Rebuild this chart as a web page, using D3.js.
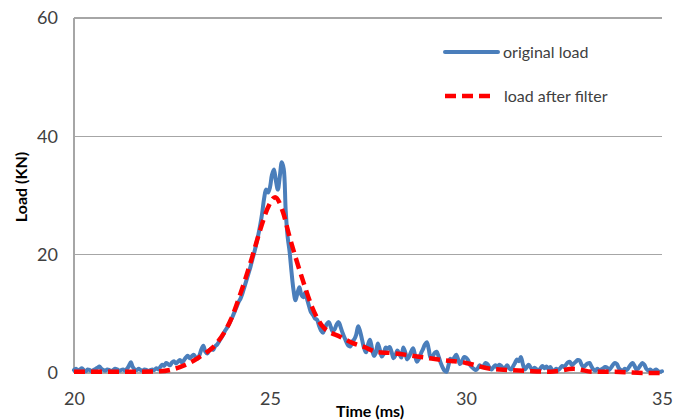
<!DOCTYPE html>
<html>
<head>
<meta charset="utf-8">
<script src="https://cdn.jsdelivr.net/npm/d3@7"></script>
<style>
  html, body { margin: 0; padding: 0; background: #fff; }
  svg { display: block; font-family: Lato, "Open Sans", sans-serif; }
</style>
</head>
<body>
<svg id="chart" width="673" height="420"></svg>
<script>
// Time axis (ms) and load axis (kN)
const xTicks = [20, 25, 30, 35];
const yTicks = [0, 20, 40, 60];

// Raw load signal, sampled every 0.05 ms from 20 ms
const rawStart = 20;
const rawStep = 0.05;
const rawLoad = [
  0.5,0.7,0.4,0.6,0.8,0.5,0.3,0.6,0.5,0.3,0.5,0.7,0.9,1.1,0.7,0.5,0.4,0.6,0.5,0.3,
  0.5,0.7,0.6,0.4,0.5,0.6,0.4,0.7,1.2,1.8,1.0,0.6,0.5,0.7,0.5,0.4,0.6,0.5,0.3,0.5,
  0.6,0.5,0.8,0.6,1.0,1.4,1.2,1.7,1.5,1.3,1.8,2.0,1.6,1.9,2.2,1.8,2.1,2.6,2.9,2.5,
  2.8,3.1,2.7,2.4,3.0,4.0,4.6,3.6,3.3,3.8,4.1,3.9,4.5,4.8,5.3,5.9,6.4,7.1,7.6,8.2,
  8.9,9.6,10.4,11.2,12.0,12.6,13.5,14.6,15.7,16.8,17.9,19.2,20.4,21.8,23.3,25.0,27.0,29.5,31.0,30.5,
  31.4,33.5,34.4,32.5,31.0,33.2,35.6,34.5,27.5,23.0,20.5,17.0,14.0,12.3,13.5,14.5,13.2,12.8,13.6,12.4,
  11.2,10.2,9.8,9.2,9.0,8.0,7.2,6.8,7.5,8.3,8.6,7.8,7.0,7.4,8.2,8.6,7.8,6.8,6.0,5.2,
  4.6,4.5,5.3,5.7,6.5,7.9,7.0,5.6,4.2,3.5,4.8,5.6,4.2,2.9,3.4,5.0,4.0,2.8,3.2,4.3,
  4.1,4.4,3.6,2.5,3.0,3.8,3.2,2.6,4.3,3.5,2.3,2.8,3.6,4.2,3.0,1.9,2.4,3.3,4.0,4.8,
  5.2,4.0,2.5,2.8,3.4,3.6,2.8,1.8,1.0,0.4,0.2,1.2,2.4,2.0,2.6,3.1,2.3,1.5,2.0,2.7,
  2.6,2.2,1.4,1.0,0.7,0.5,0.8,1.3,1.0,1.2,1.7,1.5,0.9,0.6,1.0,1.3,0.9,1.4,1.2,0.7,
  0.9,1.3,0.8,0.6,1.1,1.7,2.3,2.0,2.7,1.5,0.6,1.0,1.4,0.9,0.5,0.9,0.6,0.4,0.8,1.2,
  0.8,1.1,0.7,1.0,0.5,0.4,0.7,0.5,0.8,1.2,1.0,1.4,1.8,1.9,1.3,1.6,1.9,2.2,2.1,1.4,
  1.0,1.3,1.6,1.7,1.1,0.6,0.4,0.7,0.5,0.6,0.8,1.0,0.9,0.5,0.9,1.4,1.7,1.5,0.8,0.5,
  0.4,0.7,0.5,0.9,1.4,1.7,1.2,0.6,0.8,1.3,1.7,1.4,0.7,0.4,0.6,0.3,0.4,0.6,0.3,0.2,
  0.3
];

// Filtered load
const filtTime = [20.0,21.2,22.2,22.7,23.2,23.65,24.0,24.25,24.5,24.75,24.95,25.13,25.33,25.5,25.65,25.85,26.07,26.35,26.8,27.1,27.4,27.75,28.05,28.85,29.4,30.0,30.55,31.1,31.7,32.15,32.75,33.25,33.75,34.6,35.0];
const filtLoad = [0.2,0.2,0.3,1.0,2.7,5.1,9.0,13.5,18.6,24.2,28.0,29.7,27.2,23.0,19.6,15.4,11.2,7.8,6.1,5.1,4.4,3.5,3.4,2.7,2.2,1.7,0.8,0.5,0.3,0.2,0.7,0.2,0.2,0.0,0.0];

const seriesNames = ["original load", "load after filter"];
const xTitle = "Time (ms)";
const yTitle = "Load (KN)";

const svg = d3.select("#chart");
const plot = { left: 74, right: 662, top: 18, bottom: 373 };

const x = d3.scaleLinear().domain([20, 35]).range([plot.left, plot.right]);
const y = d3.scaleLinear().domain([0, 60]).range([plot.bottom, plot.top]);

const gridColor = "#a6a6a6";

// Horizontal gridlines
svg.append("g")
  .selectAll("line")
  .data(yTicks)
  .join("line")
  .attr("x1", plot.left).attr("x2", plot.right)
  .attr("y1", d => y(d)).attr("y2", d => y(d))
  .attr("stroke", gridColor).attr("stroke-width", 1.3)
  .attr("shape-rendering", "crispEdges");

// Vertical axis line
svg.append("line")
  .attr("x1", plot.left).attr("x2", plot.left)
  .attr("y1", plot.top).attr("y2", plot.bottom)
  .attr("stroke", gridColor).attr("stroke-width", 1.3)
  .attr("shape-rendering", "crispEdges");

// Y tick labels
const yAxis = d3.axisLeft(y).tickValues(yTicks).tickSize(0).tickPadding(16);
const gy = svg.append("g").attr("transform", `translate(${plot.left},0)`).call(yAxis);
gy.select(".domain").remove();
gy.selectAll("text").attr("font-size", 18).attr("fill", "#404040")
  .attr("font-family", "Lato, sans-serif");

// X tick labels
const xAxis = d3.axisBottom(x).tickValues(xTicks).tickSize(0).tickPadding(19);
const gx = svg.append("g").attr("transform", `translate(0,${plot.bottom})`).call(xAxis);
gx.select(".domain").remove();
gx.selectAll("text").attr("font-size", 18).attr("fill", "#404040")
  .attr("font-family", "Lato, sans-serif");

// Axis titles
svg.append("text")
  .attr("x", 370).attr("y", 417)
  .attr("text-anchor", "middle")
  .attr("font-size", 16).attr("font-weight", "bold").attr("fill", "#000")
  .text(xTitle);

svg.append("text")
  .attr("transform", "translate(27,187) rotate(-90)")
  .attr("text-anchor", "middle")
  .attr("font-size", 16).attr("font-weight", "bold").attr("fill", "#000")
  .text(yTitle);

// Series
const rawData = rawLoad.map((v, i) => ({ t: rawStart + i * rawStep, v }));
const filtData = filtTime.map((t, i) => ({ t, v: filtLoad[i] }));

const rawLine = d3.line().x(d => x(d.t)).y(d => y(d.v)).curve(d3.curveCatmullRom.alpha(0.5));
const filtLine = d3.line().x(d => x(d.t)).y(d => y(d.v)).curve(d3.curveMonotoneX);

const blue = "#4a7ebb";
const red = "#ff0000";

svg.append("path")
  .datum(rawData)
  .attr("d", rawLine)
  .attr("fill", "none")
  .attr("stroke", blue)
  .attr("stroke-width", 4)
  .attr("stroke-linejoin", "round")
  .attr("stroke-linecap", "round");

svg.append("path")
  .datum(filtData)
  .attr("d", filtLine)
  .attr("fill", "none")
  .attr("stroke", red)
  .attr("stroke-width", 4.5)
  .attr("stroke-dasharray", "11,6");

// Legend
const legend = svg.append("g");
const legendItems = [
  { name: seriesNames[0], color: blue, dash: null, y: 52 },
  { name: seriesNames[1], color: red, dash: "11,6", y: 96 }
];
legendItems.forEach(item => {
  legend.append("line")
    .attr("x1", 445).attr("x2", item.dash ? 494 : 498)
    .attr("y1", item.y).attr("y2", item.y)
    .attr("stroke", item.color)
    .attr("stroke-width", item.dash ? 4.5 : 4)
    .attr("stroke-linecap", item.dash ? "butt" : "round")
    .attr("stroke-dasharray", item.dash);
  legend.append("text")
    .attr("x", item.dash ? 504 : 503).attr("y", item.y + 6)
    .attr("font-size", 16).attr("fill", "#404040")
    .text(item.name);
});
</script>
</body>
</html>
